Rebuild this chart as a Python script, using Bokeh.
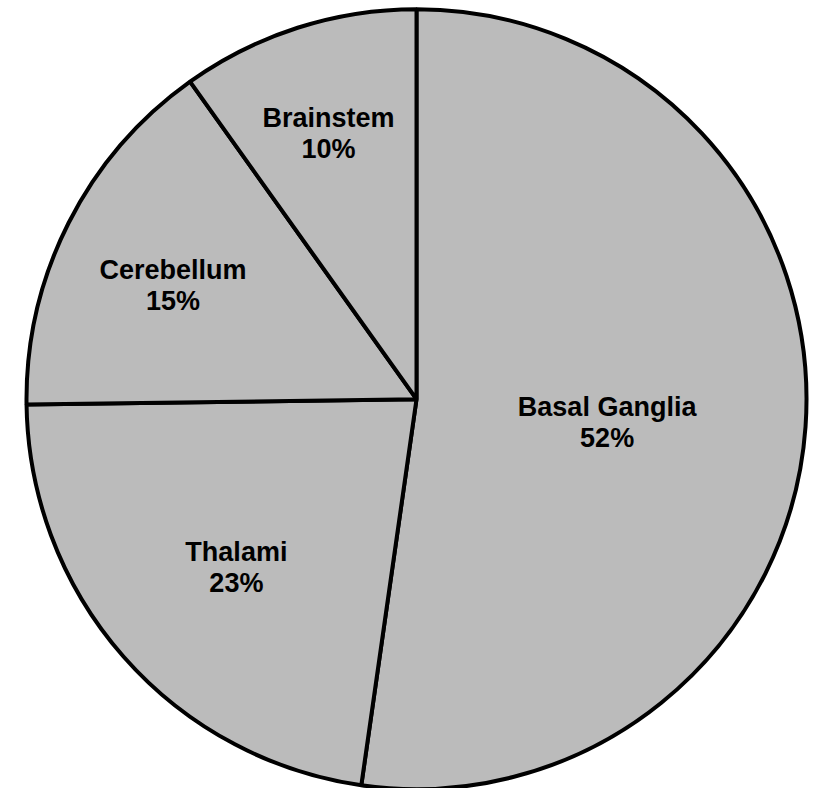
import math
from bokeh.plotting import figure
from bokeh.models import Range1d, ColumnDataSource
from bokeh.core.properties import value
from bokeh.embed import file_html
from bokeh.resources import INLINE

# ---- data ----
regions = ["Basal Ganglia", "Thalami", "Cerebellum", "Brainstem"]
shares = [52.26, 22.52, 15.36, 9.86]
pct_labels = ["%d%%" % round(v) for v in shares]

# ---- layout / style ----
W, H = 813, 788
CX, CY = 416, H - 398.7
R = 390
label_radius = [0.49, 0.615, 0.70, 0.74]
FILL = "#bbbbbb"

total = sum(shares)
starts, ends, lx, ly = [], [], [], []
cum = 0.0
for v, rf in zip(shares, label_radius):
    a0 = cum / total
    a1 = (cum + v) / total
    # clockwise from top
    starts.append(math.pi / 2 - 2 * math.pi * a1)
    ends.append(math.pi / 2 - 2 * math.pi * a0)
    mid = 2 * math.pi * (a0 + a1) / 2
    lx.append(CX + rf * R * math.sin(mid))
    ly.append(CY + rf * R * math.cos(mid))
    cum += v

src = ColumnDataSource(dict(
    start=starts, end=ends, name=regions, pct=pct_labels,
    nx=lx, ny=[y + 6 for y in ly], py=[y - 25 for y in ly],
))

p = figure(width=W, height=H, output_backend="svg", toolbar_location=None,
           x_range=Range1d(0, W), y_range=Range1d(0, H),
           x_axis_type=None, y_axis_type=None, min_border=0,
           outline_line_color=None, tools="")
p.grid.visible = False
p.background_fill_color = "white"
p.border_fill_color = "white"

p.wedge(x=CX, y=CY, radius=R, start_angle="start", end_angle="end",
        direction="anticlock", source=src, fill_color=FILL,
        line_color="black", line_width=4)

p.text(x="nx", y="ny", text="name", source=src, text_align="center",
       text_baseline="alphabetic", text_font=value("Liberation Sans"),
       text_font_style="bold", text_font_size="27px", text_color="black")
p.text(x="nx", y="py", text="pct", source=src, text_align="center",
       text_baseline="alphabetic", text_font=value("Liberation Sans"),
       text_font_style="bold", text_font_size="27px", text_color="black")

open("out.html", "w").write(file_html(p, INLINE))
